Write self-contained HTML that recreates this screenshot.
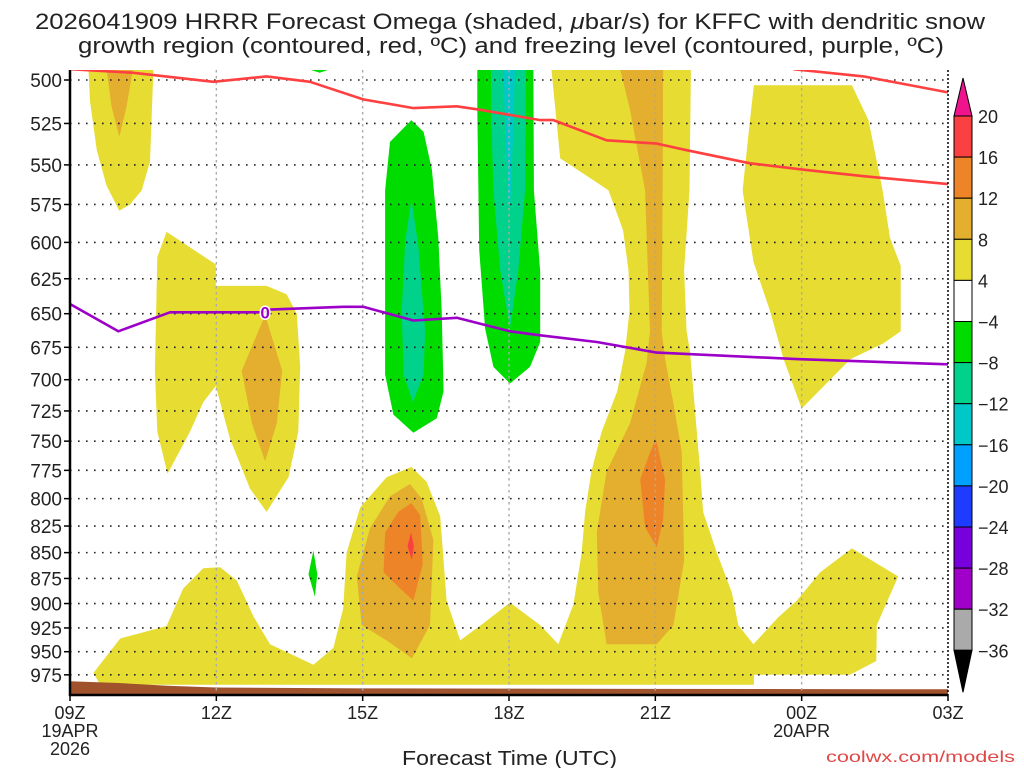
<!DOCTYPE html>
<html><head><meta charset="utf-8">
<style>
html,body{margin:0;padding:0;background:#fff;}
body{width:1024px;height:768px;overflow:hidden;font-family:"Liberation Sans",sans-serif;}
svg text{font-family:"Liberation Sans",sans-serif;fill:#222;}
</style></head>
<body>
<svg id="chart" width="1024" height="768" xmlns="http://www.w3.org/2000/svg">
  <text x="35" y="29" font-size="22" textLength="950" lengthAdjust="spacingAndGlyphs">2026041909 HRRR Forecast Omega (shaded, <tspan font-style="italic">μ</tspan>bar/s) for KFFC with dendritic snow</text>
  <text x="78" y="53" font-size="22" textLength="866" lengthAdjust="spacingAndGlyphs">growth region (contoured, red, ºC) and freezing level (contoured, purple, ºC)</text>
  <g id="plot"></g>
  <g id="axes"></g>
  <g id="cbar"></g>
  <text x="402" y="765" font-size="20" textLength="215" lengthAdjust="spacingAndGlyphs">Forecast Time (UTC)</text>
  <text x="826" y="762" font-size="16" textLength="189" lengthAdjust="spacingAndGlyphs" style="fill:#e04848">coolwx.com/models</text>
</svg>
<script>
// ---- data (hours since 00Z 19APR, pressure hPa) ----
const pressureTicks = [500,525,550,575,600,625,650,675,700,725,750,775,800,825,850,875,900,925,950,975];
const timeTicks = [9,12,15,18,21,24,27];
const timeLabels = ["09Z","12Z","15Z","18Z","21Z","00Z","03Z"];
const levelLabels = ["20","16","12","8","4","\u22124","\u22128","\u221212","\u221216","\u221220","\u221224","\u221228","\u221232","\u221236"];
const levelColors = ["#fa4040","#ee8428","#e4ae2e","#e6dc32","#ffffff","#00dc00","#00d28c","#00c8c8","#00a0ff","#1e3cff","#7800dc","#a000c8","#aaaaaa"];

const yellowMain = [[9.48,973],[10.03,936],[10.98,923],[11.32,885],[11.73,865],[12.08,864],[12.42,877],[12.76,913],[13.1,942],[13.99,964],[14.4,946],[14.6,905],[14.67,850],[14.95,808],[15.49,781],[16.0,772],[16.31,785],[16.59,816],[16.72,897],[17.0,938],[17.48,920],[18.02,899],[18.64,922],[19.01,942],[19.32,901],[19.49,850],[19.56,812],[19.69,776],[19.9,742],[20.22,709],[20.38,678],[20.47,648],[20.45,619],[20.34,592],[20.04,566],[19.8,561],[19.05,546],[18.87,494],[21.73,494],[21.7,566],[21.59,619],[21.64,663],[21.71,678],[21.78,709],[21.85,742],[21.92,776],[21.98,812],[22.26,850],[22.57,889],[22.7,922],[23.01,942],[23.52,914],[23.9,897],[24.38,869],[25.03,846],[25.98,873],[25.54,922],[25.53,960],[24.99,975],[23.02,975],[23.02,986],[9.62,986]];
const yellowA = [[9.38,494],[10.71,494],[10.64,548],[10.47,566],[10.23,575],[10.01,579],[9.75,563],[9.55,541],[9.41,512]];
const yellowB = [[10.98,593],[11.99,615],[11.99,630],[13.03,630],[13.44,636],[13.65,650],[13.72,690],[13.68,742],[13.48,781],[13.03,812],[12.69,791],[12.28,748],[11.99,705],[11.73,718],[11.46,742],[11.0,778],[10.79,742],[10.74,693],[10.79,610]];
const yellowG = [[23.02,503],[25.03,503],[25.37,523],[25.66,566],[25.81,597],[26.03,616],[26.03,663],[25.68,672],[25.0,684],[24.0,723],[23.63,684],[23.35,648],[23.01,613],[22.79,566],[22.94,523]];
const orangeA = [[9.75,494],[10.29,494],[10.16,515],[10.01,533],[9.85,515]];
const orangeB = [[13.0,651],[13.35,693],[13.24,735],[13.0,767],[12.73,735],[12.52,693]];
const orange16 = [[15.97,787],[16.21,800],[16.45,838],[16.38,922],[16.01,957],[15.49,938],[14.98,922],[14.88,873],[15.15,827],[15.56,798]];
const orange21 = [[20.28,494],[21.16,494],[21.15,566],[21.13,663],[21.2,684],[21.37,719],[21.54,759],[21.57,812],[21.59,858],[21.37,922],[21.03,942],[20.0,942],[19.83,889],[19.8,831],[20.0,776],[20.48,735],[20.82,687],[20.89,663],[20.79,566],[20.48,517]];
const darkOrange16 = [[16.0,804],[16.18,815],[16.23,861],[16.04,897],[15.77,885],[15.43,869],[15.46,831],[15.73,812]];
const darkOrange21 = [[21.01,748],[21.2,783],[21.16,819],[21.03,845],[20.79,826],[20.69,783],[20.86,763]];
const red16 = [[15.99,831],[16.05,844],[16.01,857],[15.92,844]];
const greenTop = [[13.89,494],[14.33,494],[14.12,496]];
const greenC = [[16.0,523],[16.25,530],[16.42,553],[16.55,597],[16.62,648],[16.66,709],[16.52,731],[16.04,743],[15.63,728],[15.46,696],[15.46,566],[15.56,536]];
const greenD = [[17.35,494],[18.5,494],[18.51,566],[18.64,620],[18.64,671],[18.43,690],[18.02,703],[17.68,690],[17.51,661],[17.39,605],[17.35,517]];
const greenE = [[13.99,848],[14.07,871],[14.02,893],[13.89,871]];
const tealC = [[16.0,572],[16.14,602],[16.28,663],[16.25,696],[16.03,718],[15.84,696],[15.8,648],[15.87,600]];
const tealD = [[17.63,494],[18.35,494],[18.33,566],[18.19,619],[18.02,661],[17.82,619],[17.68,566],[17.63,517]];
const cyanD = [[17.89,494],[18.12,494],[18.09,528],[18.01,587],[17.92,528]];
const terrain = [[9,982],[10,984],[11,987],[12,989],[15,990],[27,991],[27,1000],[9,1000]];
const dgzLower = [[9,494],[10.3,496],[11.94,501],[13.03,498],[13.92,501],[15.01,511],[16.04,516],[16.93,515],[17.41,517],[18.64,523],[18.91,523],[20.0,535],[21.03,537],[21.64,541],[22.94,549],[24.04,553],[25.27,557],[27.0,562]];
const dgzUpper = [[23.83,494],[25.27,498],[27.0,507]];
const freezing = [[9,643],[9.99,663],[11.05,649],[11.99,649],[12.9,649],[13.1,647],[14.6,645],[15.01,645],[16.04,655],[16.93,653],[18.02,663],[18.64,666],[19.8,671],[21.03,679],[23.9,684],[27.0,688]];

// ---- axes ----
const X0=70, X1=948, T0=9, T1=27;
function xOf(h){return X0+(h-T0)*(X1-X0)/(T1-T0);}
function yOf(p){return 80+890.7*Math.log(p/500);}
const NS="http://www.w3.org/2000/svg";
function mk(tag,attrs,parent){const e=document.createElementNS(NS,tag);for(const k in attrs)e.setAttribute(k,attrs[k]);parent.appendChild(e);return e;}
function pts(arr){return arr.map(d=>xOf(d[0]).toFixed(1)+","+yOf(d[1]).toFixed(1)).join(" ");}

const plot=document.getElementById("plot");
mk("defs",{},plot).innerHTML='<clipPath id="clipP"><rect x="70" y="70" width="878" height="625"/></clipPath>';
const g=mk("g",{"clip-path":"url(#clipP)"},plot);

function fillPoly(arr,color,name){
  const e=mk("polygon",{points:pts(arr),fill:color},g);
  
  
}
fillPoly(yellowMain,"#e6dc32","omega-4-8-main");
fillPoly(yellowA,"#e6dc32","omega-4-8-topleft");
fillPoly(yellowB,"#e6dc32","omega-4-8-midleft");
fillPoly(yellowG,"#e6dc32","omega-4-8-right");
fillPoly(orangeA,"#e4ae2e","omega-8-12-topleft");
fillPoly(orangeB,"#e4ae2e","omega-8-12-midleft");
fillPoly(orange16,"#e4ae2e","omega-8-12-16z");
fillPoly(orange21,"#e4ae2e","omega-8-12-21z");
fillPoly(darkOrange16,"#ee8428","omega-12-16-16z");
fillPoly(darkOrange21,"#ee8428","omega-12-16-21z");
fillPoly(red16,"#fa4040","omega-16-20-16z");
fillPoly(greenTop,"#00dc00","omega-neg4-top");
fillPoly(greenC,"#00dc00","omega-neg4-16z");
fillPoly(greenD,"#00dc00","omega-neg4-18z");
fillPoly(greenE,"#00dc00","omega-neg4-14z");
fillPoly(tealC,"#00d28c","omega-neg8-16z");
fillPoly(tealD,"#00d28c","omega-neg8-18z");
fillPoly(cyanD,"#00c8c8","omega-neg12-18z");
fillPoly(terrain,"#a0522d","terrain");

// grid
pressureTicks.forEach(p=>{
  const l=mk("line",{x1:X0,x2:X1,y1:yOf(p),y2:yOf(p),stroke:"#222","stroke-width":1.6,"stroke-dasharray":"1.6 6.4"},g);
  
  
});
timeTicks.slice(1,-1).forEach(h=>{
  const l=mk("line",{x1:xOf(h),x2:xOf(h),y1:70,y2:695,stroke:"#aaa","stroke-width":1.4,"stroke-dasharray":"2.5 3.5"},g);
  
  
});

// contour lines
function line(arr,color,name){
  const e=mk("polyline",{points:pts(arr),fill:"none",stroke:color,"stroke-width":2.6,"stroke-linejoin":"round"},g);
  
  
}
line(dgzLower,"#ff4040","dendritic-contour-lower");
line(dgzUpper,"#ff4040","dendritic-contour-upper");
line(freezing,"#9c00c8","freezing-level-contour");
const lbl=mk("text",{x:xOf(13),y:yOf(649)+6,"font-size":17,"font-weight":"bold","text-anchor":"middle",style:"fill:#9c00c8;stroke:#fff;stroke-width:3;paint-order:stroke"},g);
lbl.textContent="0";



// axes frame and labels
const ax=document.getElementById("axes");
mk("line",{x1:X0,x2:X0,y1:70,y2:696,stroke:"#000","stroke-width":2.5},ax);
mk("line",{x1:X0-1,x2:X1,y1:695,y2:695,stroke:"#000","stroke-width":2.5},ax);
mk("line",{x1:X1,x2:X1,y1:70,y2:695,stroke:"#000","stroke-width":1.5,"stroke-dasharray":"2 2"},ax);
pressureTicks.forEach(p=>{
  mk("line",{x1:X0-6,x2:X0,y1:yOf(p),y2:yOf(p),stroke:"#000","stroke-width":1.5},ax);
  const t=mk("text",{x:62,y:yOf(p)+7,"font-size":19,"text-anchor":"end"},ax);
  t.textContent=p;
  
  
});
timeTicks.forEach((h,i)=>{
  mk("line",{x1:xOf(h),x2:xOf(h),y1:695,y2:701,stroke:"#000","stroke-width":1.5},ax);
  const t=mk("text",{x:xOf(h),y:719,"font-size":18,"text-anchor":"middle"},ax);
  t.textContent=timeLabels[i];
  
  
});
[["19APR",9,737],["2026",9,755],["20APR",24,737]].forEach(d=>{
  const t=mk("text",{x:xOf(d[1]),y:d[2],"font-size":18,"text-anchor":"middle"},ax);
  t.textContent=d[0];
  
  
});

// colorbar
const cb=document.getElementById("cbar");
const cx=954, cw=18, ctop=116, step=41.1;
levelColors.forEach((c,i)=>{
  const r=mk("rect",{x:cx,y:ctop+i*step,width:cw,height:step,fill:c,stroke:"#000","stroke-width":1},cb);
  
  
});
const up=mk("polygon",{points:`${cx},${ctop} ${cx+cw},${ctop} ${cx+cw/2},${ctop-38}`,fill:"#f0148c",stroke:"#000","stroke-width":1},cb);


const cbot=ctop+levelColors.length*step;
const dn=mk("polygon",{points:`${cx},${cbot} ${cx+cw},${cbot} ${cx+cw/2},${cbot+42}`,fill:"#000",stroke:"#000","stroke-width":1},cb);


levelLabels.forEach((s,i)=>{
  const t=mk("text",{x:978,y:ctop+i*step+7,"font-size":18},cb);
  t.textContent=s;
  
  
});
</script>
</body></html>
